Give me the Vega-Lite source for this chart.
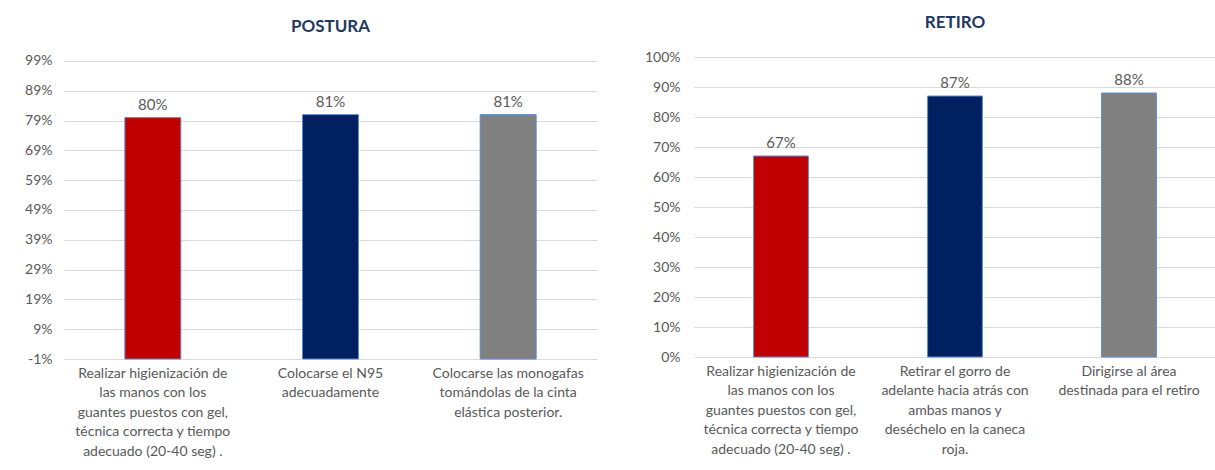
{
  "$schema": "https://vega.github.io/schema/vega-lite/v6.json",
  "background": "white",
  "padding": {"left": 24, "top": 14, "right": 0, "bottom": 0},
  "spacing": 47,
  "config": {
    "view": {"stroke": null},
    "font": "Lato",
    "title": {"font": "Lato", "fontSize": 17, "fontWeight": "bold", "color": "#1F3864", "offset": 18},
    "axis": {"labelFont": "Lato", "labelColor": "#595959", "domain": false, "ticks": false, "title": null}
  },
  "datasets": {
    "postura": [
      {"actividad": "Realizar  higienización de|las manos con los|guantes puestos con gel,|técnica correcta y tiempo|adecuado (20-40 seg) .", "valor": 0.80, "orden": 1},
      {"actividad": "Colocarse el N95|adecuadamente", "valor": 0.81, "orden": 2},
      {"actividad": "Colocarse las monogafas|tomándolas de la cinta|elástica posterior.", "valor": 0.81, "orden": 3}
    ],
    "retiro": [
      {"actividad": "Realizar  higienización de|las manos con los|guantes puestos con gel,|técnica correcta y tiempo|adecuado (20-40 seg) .", "valor": 0.67, "orden": 1},
      {"actividad": "Retirar el gorro de|adelante hacia atrás con|ambas manos y|deséchelo en la caneca|roja.", "valor": 0.87, "orden": 2},
      {"actividad": "Dirigirse al área|destinada para el retiro", "valor": 0.88, "orden": 3}
    ]
  },
  "hconcat": [
    {
      "title": "POSTURA",
      "width": 533,
      "height": 302,
      "data": {"name": "postura"},
      "encoding": {
        "x": {
          "field": "actividad", "type": "nominal", "sort": {"field": "orden"},
          "scale": {"paddingInner": 0, "paddingOuter": 0},
          "axis": {"labelAngle": 0, "labelExpr": "split(datum.label, '|')", "labelFontSize": 14, "labelLineHeight": 19.5, "labelPadding": 7, "labelLimit": 400, "labelOverlap": false, "labelBaseline": "top", "grid": false}
        },
        "y": {
          "field": "valor", "type": "quantitative",
          "scale": {"domain": [-0.01, 1.0034], "zero": false, "nice": false},
          "axis": {"values": [-0.01, 0.09, 0.19, 0.29, 0.39, 0.49, 0.59, 0.69, 0.79, 0.89, 0.99], "labelExpr": "round(datum.value * 100) + '%'", "labelFontSize": 14, "labelPadding": 12, "grid": true, "gridColor": "#d9d9d9", "gridWidth": 1}
        }
      },
      "layer": [
        {
          "mark": {"type": "bar", "width": {"band": 0.315}, "stroke": "#5B8BD0", "strokeWidth": 1},
          "encoding": {
            "y2": {"datum": -0.01},
            "color": {"field": "orden", "type": "nominal", "scale": {"domain": [1, 2, 3], "range": ["#C00000", "#002060", "#808080"]}, "legend": null}
          }
        },
        {
          "mark": {"type": "text", "dy": -13, "fontSize": 15, "color": "#595959", "font": "Lato"},
          "encoding": {"text": {"field": "valor", "type": "quantitative", "format": ".0%"}}
        }
      ]
    },
    {
      "title": "RETIRO",
      "width": 522,
      "height": 300,
      "data": {"name": "retiro"},
      "encoding": {
        "x": {
          "field": "actividad", "type": "nominal", "sort": {"field": "orden"},
          "scale": {"paddingInner": 0, "paddingOuter": 0},
          "axis": {"labelAngle": 0, "labelExpr": "split(datum.label, '|')", "labelFontSize": 14, "labelLineHeight": 19.5, "labelPadding": 7, "labelLimit": 400, "labelOverlap": false, "labelBaseline": "top", "grid": false}
        },
        "y": {
          "field": "valor", "type": "quantitative",
          "scale": {"domain": [0, 1], "nice": false},
          "axis": {"values": [0, 0.1, 0.2, 0.3, 0.4, 0.5, 0.6, 0.7, 0.8, 0.9, 1], "labelExpr": "round(datum.value * 100) + '%'", "labelFontSize": 14, "labelPadding": 14, "grid": true, "gridColor": "#d9d9d9", "gridWidth": 1}
        }
      },
      "layer": [
        {
          "mark": {"type": "bar", "width": {"band": 0.315}, "stroke": "#5B8BD0", "strokeWidth": 1},
          "encoding": {
            "color": {"field": "orden", "type": "nominal", "scale": {"domain": [1, 2, 3], "range": ["#C00000", "#002060", "#808080"]}, "legend": null}
          }
        },
        {
          "mark": {"type": "text", "dy": -13, "fontSize": 15, "color": "#595959", "font": "Lato"},
          "encoding": {"text": {"field": "valor", "type": "quantitative", "format": ".0%"}}
        }
      ]
    }
  ]
}
